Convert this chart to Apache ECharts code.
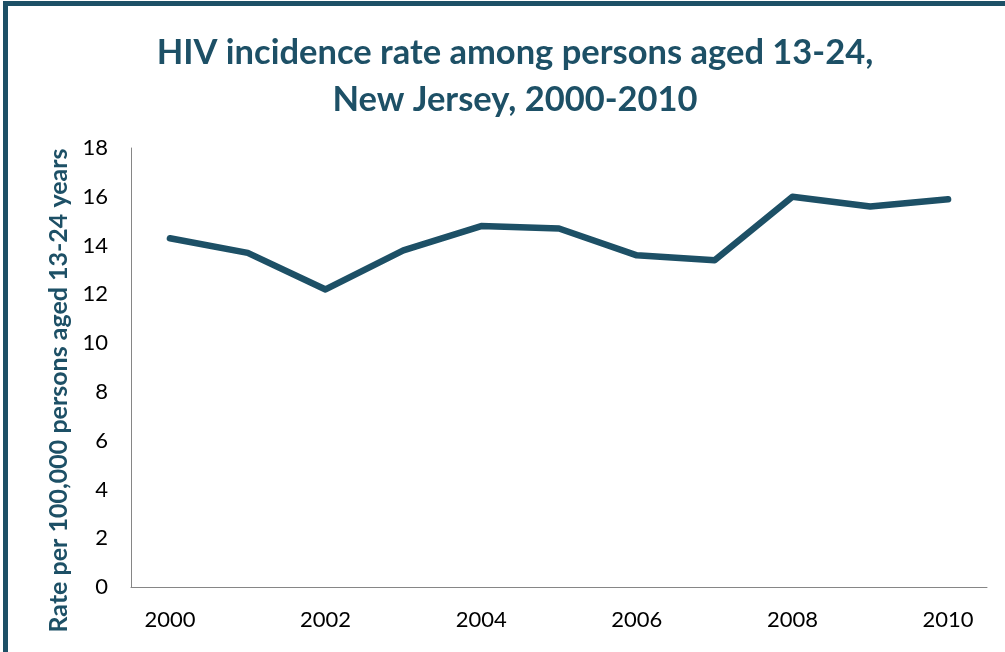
<!DOCTYPE html>
<html>
<head>
<meta charset="utf-8">
<script src="https://cdn.jsdelivr.net/npm/echarts@6/dist/echarts.min.js"></script>
<style>
  html, body { margin: 0; padding: 0; background: #fff; }
  #chart { position: absolute; left: 0; top: 0; width: 1005px; height: 652px; }
  #frame {
    position: absolute; left: 3px; top: 1px; width: 1010px; height: 646px;
    border-left: 5px solid #1d5066; border-top: 5px solid #1d5066;
    border-bottom: 2px solid #c9d1d5; pointer-events: none;
  }
</style>
</head>
<body>
<div id="chart"></div>
<div id="frame"></div>
<script>
// years on the x axis
const years = ["2000", "2001", "2002", "2003", "2004", "2005", "2006", "2007", "2008", "2009", "2010"];
// rate per 100,000 persons aged 13-24
const rates = [14.3, 13.7, 12.2, 13.8, 14.8, 14.7, 13.6, 13.4, 16.0, 15.6, 15.9];
const yMin = 0, yMax = 18, yStep = 2;

const teal = "#1d5066";
let myChart = echarts.init(document.getElementById("chart"));
let option = {
  title: {
    text: "HIV incidence rate among persons aged 13-24,\nNew Jersey, 2000-2010",
    left: 510,
    textAlign: "center",
    top: 24,
    textStyle: {
      fontFamily: "Lato",
      fontWeight: "bold",
      fontSize: 34.5,
      lineHeight: 47,
      color: teal
    }
  },
  grid: { left: 131, right: 18, top: 148, bottom: 65 },
  xAxis: {
    type: "category",
    data: years,
    boundaryGap: true,
    axisLine: { lineStyle: { color: "#868686", width: 1 } },
    axisTick: { show: false },
    axisLabel: {
      interval: 1,
      margin: 22,
      fontFamily: "Lato",
      fontSize: 22,
      color: "#000"
    }
  },
  yAxis: {
    type: "value",
    min: yMin,
    max: yMax,
    interval: yStep,
    name: "Rate per 100,000 persons aged 13-24 years",
    nameLocation: "middle",
    nameGap: 58,
    nameTextStyle: {
      fontFamily: "Lato",
      fontWeight: "bold",
      fontSize: 25,
      color: teal,
      // nudge the label down along the axis
      padding: [0, 46, 0, 0]
    },
    splitLine: { show: false },
    axisLine: { show: true, lineStyle: { color: "#868686", width: 1 } },
    axisTick: { show: false },
    axisLabel: {
      margin: 23,
      fontFamily: "Lato",
      fontSize: 22,
      color: "#000"
    }
  },
  series: [
    {
      type: "line",
      data: rates,
      symbol: "none",
      lineStyle: { color: teal, width: 6.5, cap: "round", join: "round" }
    }
  ]
};
myChart.setOption(option);
</script>
</body>
</html>
